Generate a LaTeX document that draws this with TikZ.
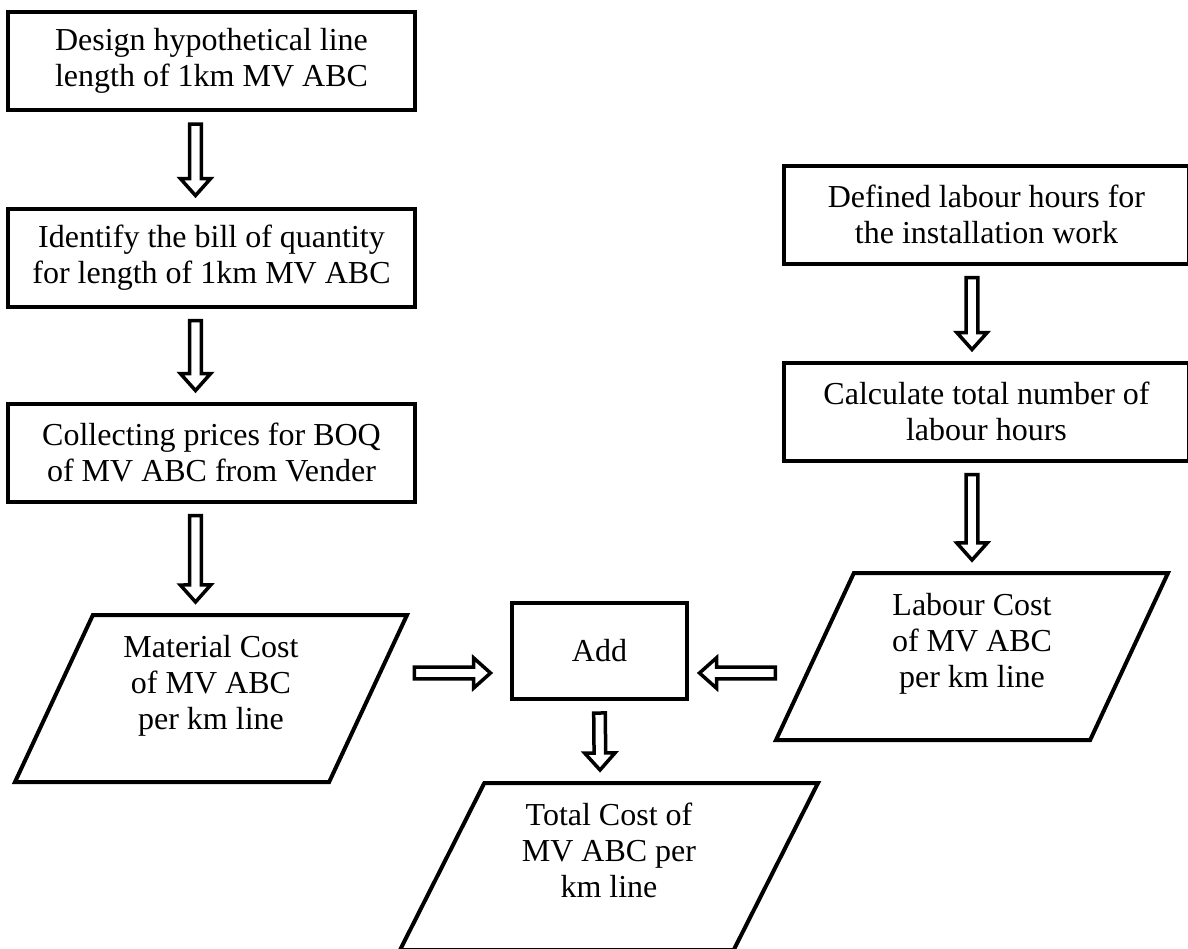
\documentclass[tikz,border=0pt]{standalone}
\usepackage{fontspec}
\setmainfont{Liberation Serif}
\usepackage{tikz}
\usetikzlibrary{calc,shapes.geometric}

% hollow block arrow, drawn from the first point to the tip at the second
\newcommand{\blkarrow}[2]{%
  \path #1 coordinate (ba-s) #2 coordinate (ba-t);
  \path ($(ba-t)!8.5pt!(ba-s)$) coordinate (ba-m);
  \draw[blk] ($(ba-s)!2.9pt!90:(ba-t)$) -- ($(ba-m)!2.9pt!90:(ba-t)$)
    -- ($(ba-m)!7.6pt!90:(ba-t)$) -- (ba-t)
    -- ($(ba-m)!7.6pt!-90:(ba-t)$) -- ($(ba-m)!2.9pt!-90:(ba-t)$)
    -- ($(ba-s)!2.9pt!-90:(ba-t)$) -- cycle;}
% text set high in the parallelograms
\newcommand{\lift}[1]{\raisebox{6.25pt}[\height][\depth]{\begin{tabular}{@{}c@{}}#1\end{tabular}}}

\begin{document}
\begin{tikzpicture}[x=0.5pt,y=-0.5pt,font=\fontsize{16}{18}\selectfont,
  box/.style={draw,line width=2pt,minimum width=203.5pt,minimum height=49pt,
              inner sep=0pt,align=center},
  para/.style={trapezium,draw,line width=2pt,trapezium left angle=65,
               trapezium right angle=115,trapezium stretches body,
               minimum width=196pt,inner xsep=0pt,inner ysep=14.75pt},
  blk/.style={draw,line width=1.75pt,fill=white,line join=miter},
]
\useasboundingbox (0,0) rectangle (1188,948);

% material side
\node[box] (design) at (211.5,61) {Design hypothetical line\\length of 1km MV ABC};
\node[box] (boq) at (211.5,257.5) {Identify the bill of quantity\\for length of 1km MV ABC};
\node[box] (price) at (211.5,452.5) {Collecting prices for BOQ\\of MV ABC from Vender};
\node[para] (mat) at (211,698.5) {\lift{Material Cost\\of MV ABC\\per km line}};

% labour side
\node[box,minimum width=202.5pt] (hours) at (986.5,214.5) {Defined labour hours for\\the installation work};
\node[box,minimum width=202.5pt] (labhrs) at (986.5,411.5) {Calculate total number of\\labour hours};
\node[para] (lab) at (972,656.5) {\lift{Labour Cost\\of MV ABC\\per km line}};

% sum
\node[box,minimum width=87.5pt,minimum height=48pt] (add) at (599.5,651) {Add};
\node[para,trapezium left angle=63.2,trapezium right angle=116.8,minimum width=209pt]
  (tot) at (609,866.5) {\lift{Total Cost of\\MV ABC per\\km line}};

\blkarrow{([xshift=-8pt,yshift=-6pt]design.south)}{([xshift=-8pt,yshift=5.5pt]boq.north)}
\blkarrow{([xshift=-8pt,yshift=-6pt]boq.south)}{([xshift=-8pt,yshift=5.5pt]price.north)}
\blkarrow{([xshift=-8pt,yshift=-6pt]price.south)}{([xshift=-7.75pt,yshift=5.5pt]mat.north)}
\blkarrow{([xshift=-7.25pt,yshift=-6pt]hours.south)}{([xshift=-7.25pt,yshift=5.5pt]labhrs.north)}
\blkarrow{([xshift=-7.25pt,yshift=-6pt]labhrs.south)}{([yshift=5.5pt]lab.north)}
\blkarrow{([xshift=22pt,yshift=12.75pt]mat.east)}{([xshift=-9.75pt,yshift=-11pt]add.west)}
\blkarrow{([xshift=-18.65pt,yshift=-8.25pt]lab.west)}{([xshift=5.25pt,yshift=-11pt]add.east)}
\blkarrow{([yshift=-6pt]add.south)}{([xshift=-4.5pt,yshift=5.5pt]tot.north)}
\end{tikzpicture}
\end{document}
